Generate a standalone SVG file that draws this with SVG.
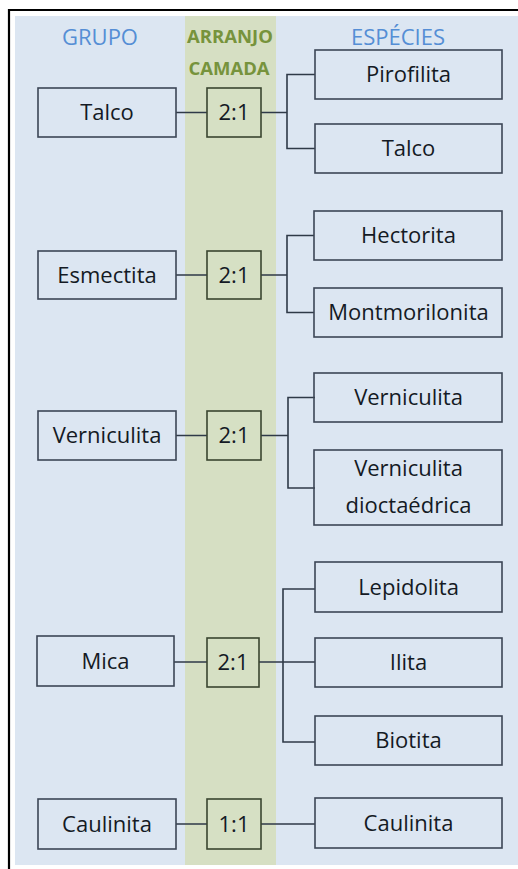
<svg xmlns="http://www.w3.org/2000/svg" width="518" height="869" viewBox="0 0 518 869">
<style>
.box{fill:none;stroke:#3C4656;stroke-width:1.6}
.ratio{fill:#D6E0C4;stroke:#3A4530;stroke-width:1.6}
.t{font-family:"Open Sans","Liberation Sans",sans-serif;font-size:22px;fill:#141A24;text-anchor:middle}
.h{font-family:"Open Sans","Liberation Sans",sans-serif;text-anchor:middle}
.c{fill:none;stroke:#2F3A48;stroke-width:1.6}
</style>
<rect x="0" y="0" width="518" height="869" fill="#FFFFFF"/>
<rect x="15" y="16" width="503" height="849" fill="#DCE6F2"/>
<rect x="185" y="16" width="91" height="849" fill="#D6DFC3"/>
<path d="M9 869 V10 H518" fill="none" stroke="#000" stroke-width="2.2"/>
<g id="headers">
<text class="h" x="100" y="45" font-size="22" fill="#558ED5">GRUPO</text>
<text class="h" x="230" y="43" font-size="18.5" font-weight="bold" fill="#77933C">ARRANJO</text>
<text class="h" x="229" y="75" font-size="18.5" font-weight="bold" fill="#77933C">CAMADA</text>
<text class="h" x="398" y="45" font-size="22" fill="#558ED5">ESPÉCIES</text>
</g>
<g id="connectors">
<path class="c" d="M176 112.5 H207 M261 112.5 H287 M315 74.5 H287 V148.5 H315"/>
<path class="c" d="M176 275 H207 M261 275 H287 M314 235.5 H287 V312.5 H314"/>
<path class="c" d="M176 435.5 H207 M261 435.5 H288 M315 397.5 H288 V488 H315"/>
<path class="c" d="M174 662 H207 M259 662 H315 M315 589 H283 V742 H315"/>
<path class="c" d="M176 824 H207 M261 824 H315"/>
</g>
<g id="g-talco"><rect class="box" x="38" y="88" width="138" height="49"/><text class="t" x="107" y="120">Talco</text></g>
<g id="r-talco"><rect class="ratio" x="207" y="88" width="54" height="49"/><text class="t" x="234" y="120">2:1</text></g>
<g id="s-pirofilita"><rect class="box" x="315" y="50" width="187" height="49"/><text class="t" x="408.5" y="82">Pirofilita</text></g>
<g id="s-talco"><rect class="box" x="315" y="124" width="187" height="49"/><text class="t" x="408.5" y="156">Talco</text></g>

<g id="g-esmectita"><rect class="box" x="38" y="251" width="138" height="48"/><text class="t" x="107" y="282.5">Esmectita</text></g>
<g id="r-esmectita"><rect class="ratio" x="207" y="251" width="54" height="48"/><text class="t" x="234" y="282.5">2:1</text></g>
<g id="s-hectorita"><rect class="box" x="314" y="211" width="188" height="49"/><text class="t" x="408.5" y="243">Hectorita</text></g>
<g id="s-montmorilonita"><rect class="box" x="314" y="288" width="188" height="49"/><text class="t" x="408.5" y="320">Montmorilonita</text></g>

<g id="g-verniculita"><rect class="box" x="38" y="411" width="138" height="49"/><text class="t" x="107" y="443">Verniculita</text></g>
<g id="r-verniculita"><rect class="ratio" x="207" y="411" width="54" height="49"/><text class="t" x="234" y="443">2:1</text></g>
<g id="s-verniculita"><rect class="box" x="314" y="373" width="188" height="49"/><text class="t" x="408.5" y="405">Verniculita</text></g>
<g id="s-verniculita-dioct"><rect class="box" x="314" y="450" width="188" height="75"/><text class="t" x="408.5" y="476">Verniculita</text><text class="t" x="408.5" y="513">dioctaédrica</text></g>

<g id="g-mica"><rect class="box" x="37" y="636" width="137" height="50"/><text class="t" x="105.5" y="668.5">Mica</text></g>
<g id="r-mica"><rect class="ratio" x="207" y="638" width="52" height="49"/><text class="t" x="233" y="670">2:1</text></g>
<g id="s-lepidolita"><rect class="box" x="315" y="562" width="187" height="50"/><text class="t" x="408.5" y="594.5">Lepidolita</text></g>
<g id="s-ilita"><rect class="box" x="315" y="638" width="187" height="49"/><text class="t" x="408.5" y="670">Ilita</text></g>
<g id="s-biotita"><rect class="box" x="315" y="716" width="187" height="49"/><text class="t" x="408.5" y="748">Biotita</text></g>

<g id="g-caulinita"><rect class="box" x="38" y="799" width="138" height="50"/><text class="t" x="107" y="831.5">Caulinita</text></g>
<g id="r-caulinita"><rect class="ratio" x="207" y="799" width="54" height="50"/><text class="t" x="234" y="831.5">1:1</text></g>
<g id="s-caulinita"><rect class="box" x="315" y="798" width="187" height="50"/><text class="t" x="408.5" y="830.5">Caulinita</text></g>
</svg>
